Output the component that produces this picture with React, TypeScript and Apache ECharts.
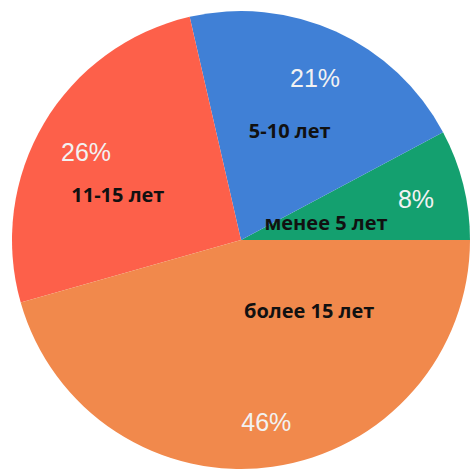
import React, { useEffect, useRef } from "react";
import * as echarts from "echarts";

const categories = ["менее 5 лет", "5-10 лет", "11-15 лет", "более 15 лет"];
const values = [7.8, 20.8, 25.8, 45.6];
const colors = ["#14a06f", "#4080d6", "#fd604a", "#f1894c"];
// label offsets (pixels) for category names relative to the slice's inside position
const nameOffsets: [number, number][] = [
  [-29, 11],
  [0, -3],
  [-22, 14],
  [52, -46],
];
// small nudges for the percentage labels
const pctOffsets: [number, number][] = [
  [-3, 4],
  [-2, 5],
  [3, 5],
  [0, 0],
];

export default function App() {
  const ref = useRef<HTMLDivElement>(null);
  useEffect(() => {
    if (!ref.current) return;
    const chart = echarts.init(ref.current, undefined, { renderer: "svg" });
    const center = [241, 240];
    const R = 229;
    chart.setOption({
      animation: false,
      backgroundColor: "#ffffff",
      series: [
        {
          type: "pie",
          center,
          radius: [0, R],
          startAngle: 0,
          clockwise: false,
          avoidLabelOverlap: false,
          silent: true,
          itemStyle: { borderWidth: 0 },
          labelLine: { show: false },
          label: {
            show: true,
            position: "inside",
            overflow: "none",
            formatter: "{b}",
            color: "#111111",
            fontFamily: "Open Sans",
            fontWeight: "bold",
            fontSize: 20,
          },
          data: categories.map((c, i) => ({
            name: c,
            value: values[i],
            itemStyle: { color: colors[i] },
            label: { offset: nameOffsets[i] },
          })),
        },
        {
          type: "pie",
          center,
          radius: [132, R],
          startAngle: 0,
          clockwise: false,
          avoidLabelOverlap: false,
          silent: true,
          itemStyle: { color: "rgba(0,0,0,0)", borderWidth: 0 },
          labelLine: { show: false },
          label: {
            show: true,
            position: "inside",
            overflow: "none",
            formatter: (p: any) => Math.round(p.percent) + "%",
            color: "#f2f2f2",
            fontFamily: "Liberation Sans",
            fontSize: 25,
          },
          data: categories.map((c, i) => ({
            name: c,
            value: values[i],
            label: { offset: pctOffsets[i] },
          })),
        },
      ],
    });
    return () => chart.dispose();
  }, []);
  return (
    <div
      ref={ref}
      style={{ position: "fixed", left: 0, top: 0, width: 471, height: 470 }}
    />
  );
}
